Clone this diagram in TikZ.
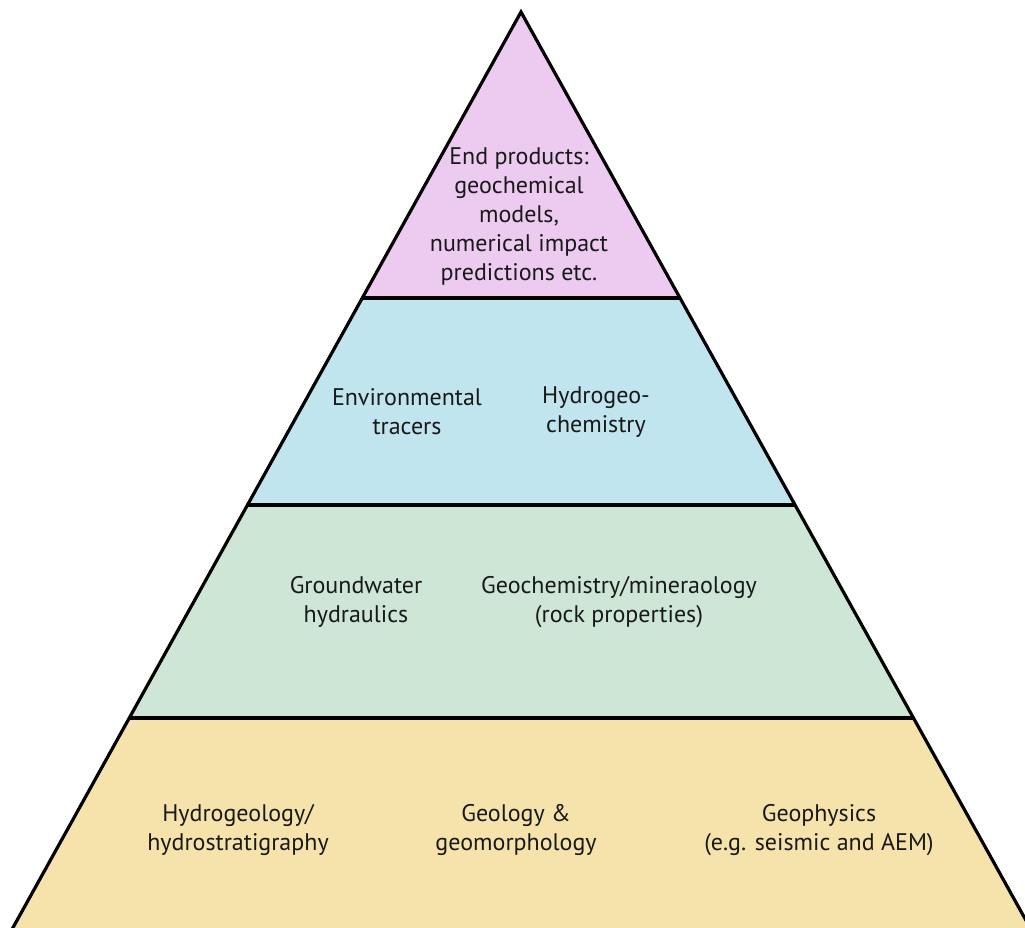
\documentclass[tikz,border=0pt]{standalone}
\usepackage{fontspec}
\setmainfont{PT Sans}
\definecolor{toppink}{HTML}{EDCBF0}
\definecolor{tierblue}{HTML}{C0E5EE}
\definecolor{tiergreen}{HTML}{CDE6D6}
\definecolor{tieryellow}{HTML}{F6E3AB}
\tikzset{
  tier/.style={draw=black, line width=3.2pt, line join=miter},
  lbl/.style={align=center, font=\fontsize{24}{29}\selectfont, inner sep=0pt, text=black!90}
}
\begin{document}
\begin{tikzpicture}[x=1pt,y=-1pt]
\useasboundingbox (0,0) rectangle (1025,928);
\begin{scope}
\clip (0,0) rectangle (1025,928);
\coordinate (A) at (521,12);
\coordinate (L1) at (362.4,298); \coordinate (R1) at (680,298);
\coordinate (L2) at (247.6,505); \coordinate (R2) at (795,505);
\coordinate (L3) at (129.5,718); \coordinate (R3) at (913.5,718);
\coordinate (L4) at (5,942); \coordinate (R4) at (1038,942);
\fill[tieryellow] (L3) -- (R3) -- (R4) -- (L4) -- cycle;
\fill[tiergreen] (L2) -- (R2) -- (R3) -- (L3) -- cycle;
\fill[tierblue] (L1) -- (R1) -- (R2) -- (L2) -- cycle;
\fill[toppink] (A) -- (R1) -- (L1) -- cycle;
\draw[tier] (L4) -- (A) -- (R4);
\draw[tier] (L1) -- (R1);
\draw[tier] (L2) -- (R2);
\draw[tier] (L3) -- (R3);
\end{scope}
\node[lbl] (top) at (519,216) {End products:\\geochemical\\models,\\numerical impact\\predictions etc.};
\node[lbl] (envt) at (407,412) {Environmental\\tracers};
\node[lbl] (hydc) at (596,412) {Hydrogeo-\\chemistry};
\node[lbl] (gwh) at (356,602) {Groundwater\\hydraulics};
\node[lbl] (geomin) at (619,602) {Geochemistry/mineraology\\(rock properties)};
\node[lbl] (hydst) at (238,830) {Hydrogeology/\\hydrostratigraphy};
\node[lbl] (geol) at (516,830) {Geology \&\\geomorphology};
\node[lbl] (geoph) at (819,830) {Geophysics\\(e.g. seismic and AEM)};
\end{tikzpicture}
\end{document}
